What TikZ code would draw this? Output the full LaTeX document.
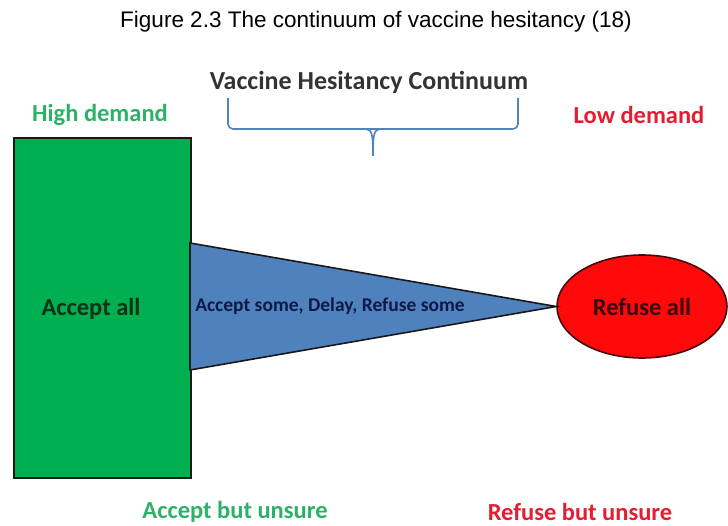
\documentclass[tikz,border=0pt]{standalone}
\usepackage{fontspec}
\setmainfont{Liberation Sans}
\newfontfamily\calfont{Carlito}
\usetikzlibrary{shapes.geometric}
\definecolor{offgreen}{RGB}{0,176,80}
\definecolor{txtgreen}{RGB}{44,178,104}
\definecolor{txtred}{RGB}{228,30,50}
\definecolor{triblue}{RGB}{79,129,189}
\definecolor{bracecol}{RGB}{84,130,190}
\definecolor{ellred}{RGB}{255,10,10}
\tikzset{
  lbl/.style={font=\calfont\bfseries\fontsize{24.5}{28}\selectfont, inner sep=0pt},
  shapeline/.style={draw=black!90, line width=1.6pt},
}
\begin{document}
\begin{tikzpicture}[x=1pt,y=-1pt]
\useasboundingbox (0,0) rectangle (728,526);
\fill[white] (0,0) rectangle (728,526);
% title
\node[font=\fontsize{22.5}{26}\selectfont, inner sep=0pt] (title) at (376,22) {Figure 2.3 The continuum of vaccine hesitancy (18)};
\node[font=\calfont\bfseries\fontsize{26}{30}\selectfont, inner sep=0pt, text=black!80] (cont) at (369,82) {Vaccine Hesitancy Continuum};
% brace
\coordinate (bl) at (228,98);
\coordinate (br) at (518,98);
\coordinate (btip) at (373,156);
\draw[bracecol, line width=1.6pt, rounded corners=5pt] (bl) -- (228,129) -- (373,129);
\draw[bracecol, line width=1.6pt, rounded corners=5pt] (br) -- (518,129) -- (373,129);
\draw[bracecol, line width=1.6pt] (366,129) .. controls (372,130) and (373,134) .. (btip);
\draw[bracecol, line width=1.6pt] (380,129) .. controls (374,130) and (373,134) .. (btip);
% demand labels
\node[lbl, text=txtgreen] (high) at (100,115) {High demand};
\node[lbl, text=txtred] (low) at (639,115) {Low demand};
% rectangle
\node[shapeline, fill=offgreen, rectangle, minimum width=177pt, minimum height=340pt, inner sep=0pt, anchor=north west] (rect) at (13,137) {};
\node[lbl, text={rgb,255:red,10;green,50;blue,25}] (acc) at (91,309) {Accept all};
% triangle
\coordinate (ta) at (190,243);
\coordinate (tb) at (190,370);
\node[shapeline, fill=ellred, draw={rgb,255:red,70;green,10;blue,10}, ellipse, minimum width=170pt, minimum height=103pt, inner sep=0pt] (ell) at (642,306.5) {};
\coordinate (tip) at (ell.west);
\draw[shapeline, fill=triblue, line join=miter] (ta) -- (tip) -- (tb) -- cycle;
\node[font=\calfont\bfseries\fontsize{19.5}{23}\selectfont, inner sep=0pt, text={rgb,255:red,15;green,25;blue,70}] (mid) at (330,306) {Accept some, Delay, Refuse some};
\node[lbl, text={rgb,255:red,60;green,5;blue,5}] (ref) at (642,307) {Refuse all};
% bottom labels
\node[lbl, text=txtgreen] (abu) at (235,512) {Accept but unsure};
\node[lbl, text=txtred] (rbu) at (580,512) {Refuse but unsure};
\end{tikzpicture}
\end{document}
